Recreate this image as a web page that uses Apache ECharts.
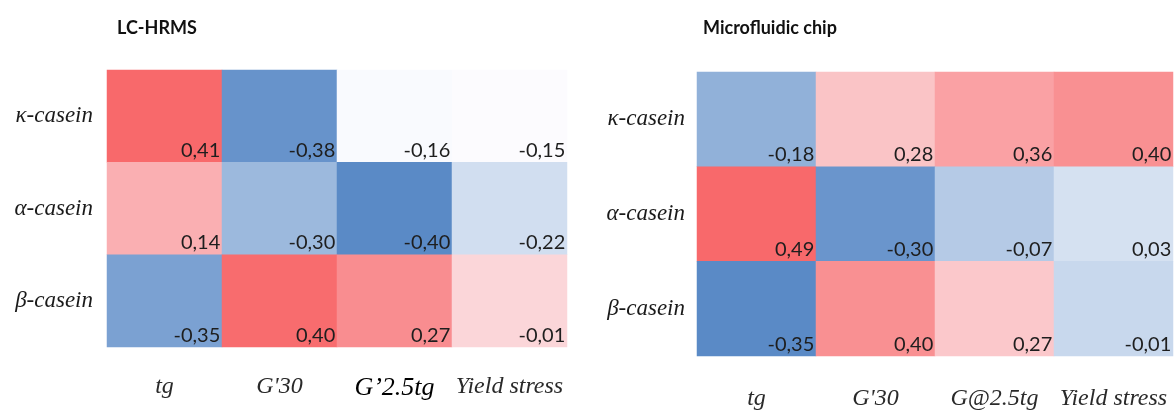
<!DOCTYPE html>
<html>
<head>
<meta charset="utf-8">
<script src="https://cdn.jsdelivr.net/npm/echarts@6/dist/echarts.min.js"></script>
<style>
  html, body { margin: 0; padding: 0; background: #ffffff; }
  #chart { width: 1175px; height: 417px; }
</style>
</head>
<body>
<div id="chart"></div>
<script>
// Proteins (rows) and rheological parameters (columns)
const proteins = ['κ-casein', 'α-casein', 'β-casein'];
const lcParams = ['tg', "G'30", 'G’2.5tg', 'Yield stress'];
const chipParams = ['tg', "G'30", 'G@2.5tg', 'Yield stress'];

// Correlation coefficients, one row per protein
const lcKappa = [0.41, -0.38, -0.16, -0.15];
const lcAlpha = [0.14, -0.30, -0.40, -0.22];
const lcBeta  = [-0.35, 0.40, 0.27, -0.01];

const chipKappa = [-0.18, 0.28, 0.36, 0.40];
const chipAlpha = [0.49, -0.30, -0.07, 0.03];
const chipBeta  = [-0.35, 0.40, 0.27, -0.01];

// Three-colour scale: min -> blue, median -> white, max -> red
const LOW = [90, 138, 198], MID = [252, 252, 255], HIGH = [248, 105, 107];
function mix(a, b, t) {
  return 'rgb(' + a.map((v, i) => Math.round(v + (b[i] - v) * t)).join(',') + ')';
}
function buildCells(rows) {
  const all = rows.flat().slice().sort((a, b) => a - b);
  const n = all.length;
  const pos = (n - 1) * 0.5, lo = Math.floor(pos), hi = Math.ceil(pos);
  const med = all[lo] + (all[hi] - all[lo]) * (pos - lo);
  const min = all[0], max = all[n - 1];
  const cells = [];
  rows.forEach((row, y) => {
    row.forEach((v, x) => {
      const color = v <= med
        ? mix(LOW, MID, (v - min) / (med - min))
        : mix(MID, HIGH, (v - med) / (max - med));
      cells.push({ value: [x, y, v], itemStyle: { color: color } });
    });
  });
  return cells;
}

const fmt = p => p.value[2].toFixed(2).replace('.', ',');
const serif = 'Liberation Serif, Times New Roman, serif';

const xLabel = (margin) => ({
  interval: 0, hideOverlap: false,
  margin: margin, fontFamily: serif, fontStyle: 'italic', fontSize: 24, color: '#2a2a2a',
  formatter: v => v === 'G’2.5tg' ? '{strong|' + v + '}' : v,
  rich: { strong: { fontFamily: serif, fontStyle: 'italic', fontSize: 26, color: '#000' } }
});
const yLabel = (margin) => ({
  interval: 0,
  margin: margin, fontFamily: serif, fontStyle: 'italic', fontSize: 23, color: '#1a1a1a'
});
const hidden = { axisLine: { show: false }, axisTick: { show: false }, splitLine: { show: false } };
const valueLabel = {
  show: true, position: 'insideBottomRight', distance: 2, formatter: fmt,
  fontFamily: 'Lato', fontSize: 20, color: '#1e1e1e'
};

const chart = echarts.init(document.getElementById('chart'), null, { renderer: 'canvas' });
chart.setOption({
  animation: false,
  backgroundColor: '#ffffff',
  title: [
    { text: 'LC-HRMS', left: 112, top: 14,
      textStyle: { fontFamily: 'Lato', fontWeight: 'bold', fontSize: 18, color: '#111' } },
    { text: 'Microfluidic chip', left: 698, top: 14,
      textStyle: { fontFamily: 'Lato', fontWeight: 'bold', fontSize: 18, color: '#111' } }
  ],
  grid: [
    { left: 107, top: 70, width: 460, height: 277 },
    { left: 697, top: 72, width: 476, height: 284 }
  ],
  xAxis: [
    Object.assign({ type: 'category', gridIndex: 0, data: lcParams, position: 'bottom',
                    axisLabel: xLabel(28) }, hidden),
    Object.assign({ type: 'category', gridIndex: 1, data: chipParams, position: 'bottom',
                    axisLabel: xLabel(31) }, hidden)
  ],
  yAxis: [
    Object.assign({ type: 'category', gridIndex: 0, data: proteins, inverse: true,
                    axisLabel: yLabel(14) }, hidden),
    Object.assign({ type: 'category', gridIndex: 1, data: proteins, inverse: true,
                    axisLabel: yLabel(12) }, hidden)
  ],
  series: [
    { type: 'heatmap', xAxisIndex: 0, yAxisIndex: 0,
      data: buildCells([lcKappa, lcAlpha, lcBeta]),
      label: valueLabel, emphasis: { disabled: true } },
    { type: 'heatmap', xAxisIndex: 1, yAxisIndex: 1,
      data: buildCells([chipKappa, chipAlpha, chipBeta]),
      label: valueLabel, emphasis: { disabled: true } }
  ]
});
</script>
</body>
</html>
